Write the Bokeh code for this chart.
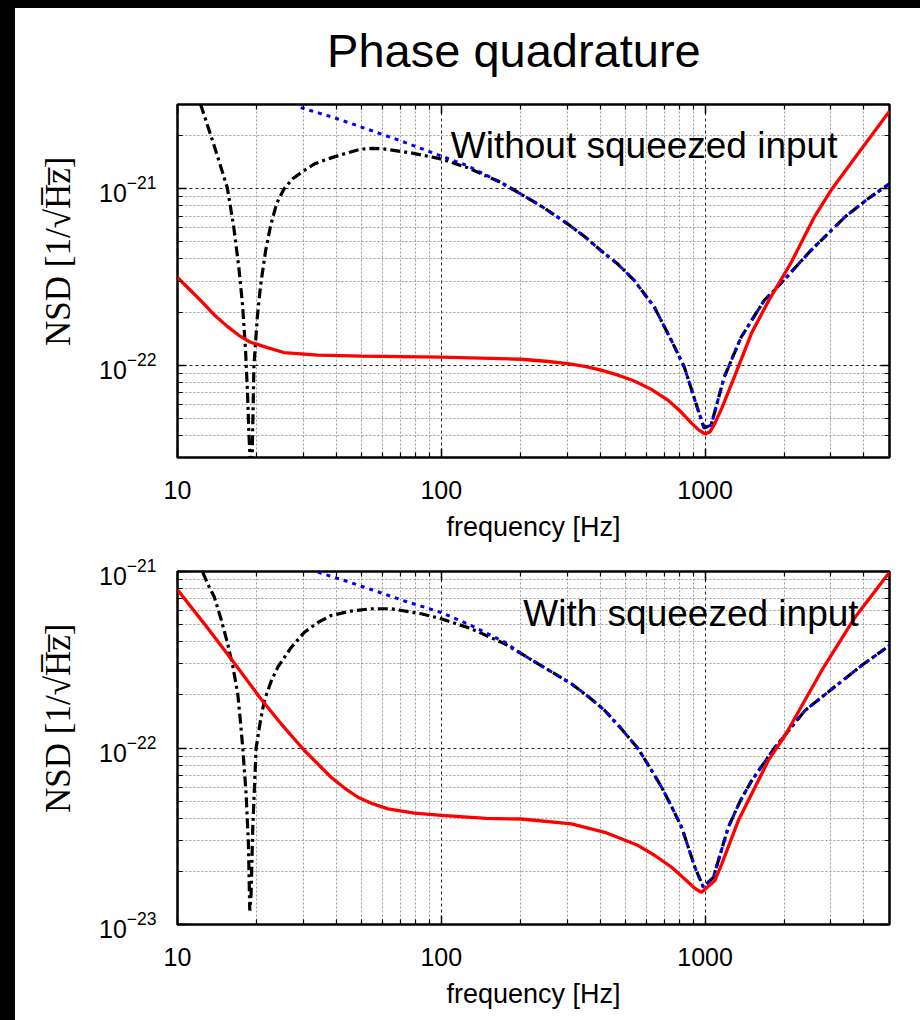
import numpy as np
from bokeh.plotting import figure
from bokeh.models import FixedTicker, LogAxis, LogTickFormatter, Label, CustomJSTickFormatter, Range1d, Spacer
from bokeh.layouts import column, row
from bokeh.embed import file_html
from bokeh.resources import INLINE

# ---------------- data ----------------
x_ticks = [10, 100, 1000]
x_minor = [20, 30, 40, 50, 60, 70, 80, 90, 200, 300, 400, 500, 600, 700, 800, 900, 2000, 3000, 4000]

top_y_ticks = [1e-22, 1e-21]
top_y_minor = [4e-23, 5e-23, 6e-23, 7e-23, 8e-23, 9e-23,
               2e-22, 3e-22, 4e-22, 5e-22, 6e-22, 7e-22, 8e-22, 9e-22, 2e-21]
bot_y_ticks = [1e-23, 1e-22, 1e-21]
bot_y_minor = [2e-23, 3e-23, 4e-23, 5e-23, 6e-23, 7e-23, 8e-23, 9e-23,
               2e-22, 3e-22, 4e-22, 5e-22, 6e-22, 7e-22, 8e-22, 9e-22]

# ---- top panel: without squeezed input (values in units of 1e-22) ----
red_top_f = [10, 11.04, 12.23, 13.73, 15.44, 17.08, 18.9, 21.9, 25.3, 34, 50, 70, 100, 200.3, 249, 302, 354, 403,
             468, 536, 623, 723, 811, 888, 948, 998, 1043, 1090, 1157, 1290, 1500, 1744, 2120, 2600, 3030, 3870, 5000]
red_top_v = [3.14, 2.71, 2.33, 1.94, 1.66, 1.477, 1.35, 1.259, 1.18, 1.14, 1.125, 1.12, 1.11, 1.081, 1.053, 1.02, 0.981,
             0.937, 0.878, 0.817, 0.732, 0.634, 0.543, 0.47, 0.429, 0.408, 0.419, 0.47, 0.571, 0.855, 1.52, 2.33, 3.82,
             6.95, 10.0, 16.4, 27.5]

# common high-frequency part of the black and blue curves
tail_top_f = [168.2, 200.3, 245.5, 301.3, 348.3, 403, 466.5, 539, 642, 744.6, 834.4, 940.6, 991, 1054, 1181, 1369,
              1675, 1859, 2514, 3399, 4119, 5000]
tail_top_v = [10.85, 9.33, 7.78, 6.32, 5.377, 4.46, 3.745, 3.02, 2.135, 1.384, 0.974, 0.557, 0.441, 0.458, 0.855,
              1.44, 2.33, 2.72, 4.46, 6.94, 8.72, 10.67]

black_top_f = [12.23, 13.7, 15.44, 16.31, 17.08, 17.65, 18.11, 18.44, 18.65, 18.8, 19.0, 19.2, 19.48, 20.07, 20.65,
               21.58, 22.54, 23.75, 25.32, 27.32, 30.15, 33.1, 37.0, 41.6, 49.5, 55, 60.4, 76.6, 99.4, 126]
black_top_v = [30.1, 17.96, 10.17, 6.18, 3.59, 2.18, 1.215, 0.677, 0.411, 0.318, 0.25, 0.318, 0.978, 1.875, 2.83,
               4.46, 6.18, 8.23, 9.96, 11.39, 12.64, 13.84, 14.72, 15.56, 16.76, 16.94, 16.8, 15.97, 14.77, 13.14]

blue_top_f = [29.3, 39.2, 52.5, 70.2, 99.4, 125.7]
blue_top_v = [28.8, 25.27, 21.74, 18.67, 15.36, 13.49]

# ---- bottom panel: with squeezed input (values in units of 1e-23) ----
red_bot_f = [10, 12.64, 15.96, 20.75, 24.7, 30.28, 38.2, 42.95, 48.3, 55.1, 62.8, 79.0, 100, 148.2, 201, 311.4,
             416.7, 557.8, 645, 746.3, 863.6, 915, 969.8, 1089.5, 1155, 1336.6, 1737.5, 2009, 2768, 3703, 5000]
red_bot_v = [78.8, 50.5, 32.0, 18.9, 13.71, 9.68, 6.83, 5.93, 5.26, 4.82, 4.52, 4.28, 4.15, 3.99, 3.96, 3.72,
             3.33, 2.80, 2.46, 2.11, 1.736, 1.60, 1.524, 1.776, 2.19, 3.88, 8.50, 11.77, 27.5, 55.1, 99.1]

tail_bot_f = [201.2, 311.4, 360.3, 416.7, 482.2, 557.8, 617.3, 683.9, 746.3, 814.5, 915, 984.5, 1074.5, 1224.6,
              1355.6, 1501.6, 1840.7, 2391, 3202, 3962, 5000]
tail_bot_v = [34.2, 23.1, 19.58, 16.31, 12.81, 9.9, 7.75, 6.0, 4.66, 3.56, 2.11, 1.63, 1.85, 3.56,
              4.98, 6.54, 10.1, 16.31, 23.1, 29.7, 38.1]

black_bot_f = [12.46, 13.05, 13.8, 14.62, 15.5, 16.24, 16.92, 17.31, 17.68, 18.2, 18.57, 18.79, 19.01, 19.29, 19.86,
               20.6, 21.35, 22.63, 24.0, 26.96, 30.28, 34.05, 38.2, 45.5, 54.2, 64.6, 84.0, 100, 130, 173.9]
black_bot_v = [99.1, 84.4, 71.5, 53.8, 38.9, 28.6, 20.28, 14.3, 9.97, 5.5, 2.87, 1.2, 1.49, 3.56, 9.97,
               14.13, 18.58, 23.82, 28.7, 37.1, 45.3, 51.4, 56.3, 59.7, 61.5, 61.5, 57.6, 54.0, 47.4, 38.9]

blue_bot_f = [34.05, 42.95, 54.2, 72.5, 100, 130, 173.9]
blue_bot_v = [99.1, 88.9, 79.1, 68.1, 58.6, 49.4, 39.8]

SANS = "Liberation Sans"
SERIF = "Liberation Serif"


def make_fig(height, b_top, b_bottom, y_range, y_ticks, y_minor):
    p = figure(width=897, height=height, x_axis_type="log", y_axis_type="log",
               x_range=Range1d(10, 5000), y_range=Range1d(*y_range),
               output_backend="svg", toolbar_location=None, title=None,
               min_border_left=162, min_border_right=23,
               min_border_top=b_top, min_border_bottom=b_bottom)
    p.outline_line_color = "black"
    p.outline_line_width = 2.5
    p.background_fill_color = "white"
    p.border_fill_color = "white"

    xt = FixedTicker(ticks=x_ticks, minor_ticks=x_minor)
    yt = FixedTicker(ticks=y_ticks, minor_ticks=y_minor)
    p.xaxis.ticker = xt
    p.yaxis.ticker = yt
    p.xaxis.formatter = LogTickFormatter(min_exponent=4)

    for ax in (p.xaxis[0], p.yaxis[0]):
        ax.axis_line_color = None
        ax.major_tick_in = 9
        ax.major_tick_out = 0
        ax.minor_tick_in = 5
        ax.minor_tick_out = 0
        ax.major_tick_line_width = 1.5
        ax.minor_tick_line_width = 1.2
        ax.major_tick_line_color = "black"
        ax.minor_tick_line_color = "black"
        ax.major_label_text_font = SANS
        ax.major_label_text_font_size = "25px"
        ax.major_label_text_color = "black"
        ax.axis_label_text_color = "black"

    p.xaxis.major_label_standoff = 23
    p.yaxis.major_label_standoff = 21
    p.xaxis.axis_label = "frequency [Hz]"
    p.xaxis.axis_label_text_font = SANS
    p.xaxis.axis_label_text_font_size = "27px"
    p.xaxis.axis_label_text_font_style = "normal"
    p.xaxis.axis_label_standoff = 10
    p.yaxis.axis_label = "\u2003\u2002\u2009NSD [1/\u221aH\u0305z\u0305]"
    p.yaxis.axis_label_text_font = SERIF
    p.yaxis.axis_label_text_font_size = "35px"
    p.yaxis.axis_label_text_font_style = "normal"
    p.yaxis.axis_label_standoff = 18

    blank = "return ''"
    top_ax = LogAxis(ticker=xt, formatter=CustomJSTickFormatter(code=blank))
    right_ax = LogAxis(ticker=yt, formatter=CustomJSTickFormatter(code=blank))
    for ax in (top_ax, right_ax):
        ax.axis_line_color = None
        ax.major_tick_in = 9
        ax.major_tick_out = 0
        ax.minor_tick_in = 5
        ax.minor_tick_out = 0
        ax.major_tick_line_width = 1.5
        ax.minor_tick_line_width = 1.2
        ax.major_label_text_font_size = "2px"
        ax.major_label_standoff = 0
    p.add_layout(top_ax, "above")
    p.add_layout(right_ax, "right")

    for g in (p.xgrid[0], p.ygrid[0]):
        g.grid_line_color = "#222222"
        g.grid_line_dash = "3 3"
        g.grid_line_width = 1
        g.minor_grid_line_color = "#9a9a9a"
        g.minor_grid_line_dash = "2 2"
        g.minor_grid_line_width = 1
    return p, top_ax


def draw(p, scale, black_f, black_v, blue_f, blue_v, tail_f, tail_v, red_f, red_v):
    bf = list(black_f) + list(tail_f)
    bv = np.array(list(black_v) + list(tail_v)) * scale
    uf = list(blue_f) + list(tail_f)
    uv = np.array(list(blue_v) + list(tail_v)) * scale
    p.line(bf, bv, line_color="black", line_width=3.2, line_dash="10 4 3 4")
    p.line(uf, uv, line_color="#0000ff", line_width=3, line_dash="4 5")
    p.line(red_f, np.array(red_v) * scale, line_color="#ff0000", line_width=3.3)


# ---------------- top figure ----------------
p1, p1_top = make_fig(540, 96, 91, (3e-23, 3e-21), top_y_ticks, top_y_minor)
# page title carried by the top (mirror) axis of the upper panel
p1_top.axis_label = "Phase quadrature\u2002\u2004"
p1_top.axis_label_text_font = SANS
p1_top.axis_label_text_font_size = "47px"
p1_top.axis_label_text_font_style = "normal"
p1_top.axis_label_text_color = "black"
p1_top.axis_label_standoff = 28

draw(p1, 1e-22, black_top_f, black_top_v, blue_top_f, blue_top_v, tail_top_f, tail_top_v, red_top_f, red_top_v)
p1.add_layout(Label(x=108.6, y=1.75e-21, text="Without squeezed input", text_font=SANS,
                    text_font_size="37px", text_baseline="alphabetic", text_color="black"))

# ---------------- bottom figure ----------------
p2, _ = make_fig(472, 23, 96, (1e-23, 1e-21), bot_y_ticks, bot_y_minor)
draw(p2, 1e-23, black_bot_f, black_bot_v, blue_bot_f, blue_bot_v, tail_bot_f, tail_bot_v, red_bot_f, red_bot_v)
p2.add_layout(Label(x=204.6, y=5.78e-22, text="With squeezed input", text_font=SANS,
                    text_font_size="37px", text_baseline="alphabetic", text_color="black"))

left_band = Spacer(width=15, height=1020, styles={"background-color": "black"})
top_band = Spacer(width=905, height=8, styles={"background-color": "black"})
layout = row(left_band, column(top_band, p1, p2, spacing=0), spacing=0)
open("out.html", "w").write(file_html(layout, INLINE))
